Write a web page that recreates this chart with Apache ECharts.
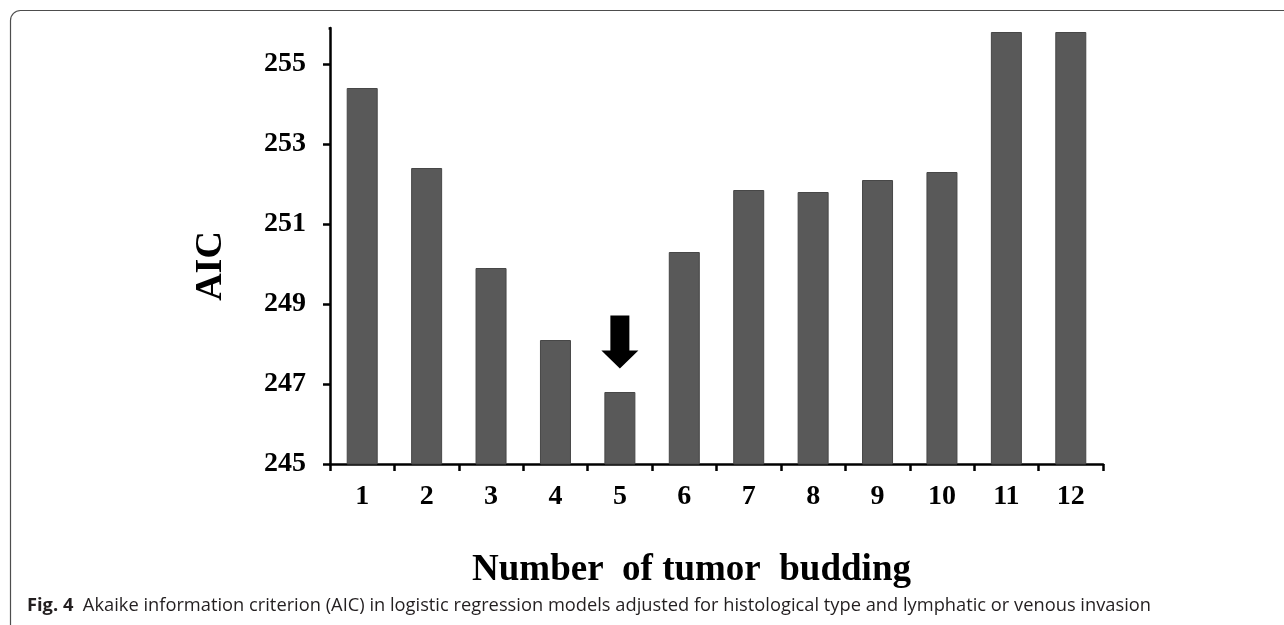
<!DOCTYPE html>
<html>
<head>
<meta charset="utf-8">
<title>AIC by number of tumor budding</title>
<script src="https://cdn.jsdelivr.net/npm/echarts@6/dist/echarts.min.js"></script>
<style>
    html, body { margin: 0; padding: 0; background: #fff; overflow: hidden; }
    #main { width: 1284px; height: 625px; }
</style>
</head>
<body>
<div id="main"></div>
<script>
    // values
    var categories = ['1', '2', '3', '4', '5', '6', '7', '8', '9', '10', '11', '12'];
    var aic = [254.4, 252.4, 249.9, 248.1, 246.8, 250.3, 251.85, 251.8, 252.1, 252.3, 255.8, 255.8];
    var yTicks = [245, 247, 249, 251, 253, 255];
    // arrow pointing at the minimum (category 5)
    var arrowCategory = '5';
    var arrowValue = 248.05;

    var serif = '"Liberation Serif", "Times New Roman", serif';
    var gridLeft = 330, gridTop = 28;
    var myChart = echarts.init(document.getElementById('main'));

    myChart.setOption({
        animation: false,
        title: {
            left: 22,
            top: 592,
            text: '{b|Fig. 4}  Akaike information criterion (AIC) in logistic regression models adjusted for histological type and lymphatic or venous invasion',
            textStyle: {
                fontFamily: '"Open Sans", sans-serif',
                fontSize: 18.3,
                fontWeight: 'normal',
                color: '#231f20',
                rich: {
                    b: { fontFamily: '"Open Sans", sans-serif', fontSize: 18.3, fontWeight: 'bold', color: '#231f20' }
                }
            }
        },
        graphic: [{
            type: 'rect',
            silent: true,
            shape: { x: 10.5, y: 10.5, width: 1400, height: 626, r: 10 },
            style: { fill: 'none', stroke: '#4d4d4d', lineWidth: 1.2 }
        }, {
            // the figure has no tick at the very top of the y axis line
            type: 'rect',
            silent: true,
            z: 100,
            shape: { x: gridLeft - 12, y: gridTop - 4, width: 10.6, height: 8 },
            style: { fill: '#fff' }
        }],
        grid: { left: gridLeft, right: 181, top: gridTop, bottom: 161 },
        xAxis: {
            type: 'category',
            data: categories,
            name: 'Number  of tumor  budding',
            nameLocation: 'middle',
            nameGap: 88,
            nameTextStyle: {
                fontFamily: serif, fontSize: 37, fontWeight: 'bold', color: '#000',
                padding: [0, 50, 0, 0]
            },
            axisLine: { show: true, lineStyle: { color: '#000', width: 2.5 } },
            axisTick: { show: true, inside: false, length: 7, lineStyle: { color: '#000', width: 2.5 } },
            axisLabel: { margin: 19, fontFamily: serif, fontSize: 28, fontWeight: 'bold', color: '#000' },
            splitLine: { show: false }
        },
        yAxis: {
            type: 'value',
            min: 245,
            max: 255.9,
            interval: 2,
            name: 'AIC',
            nameLocation: 'middle',
            nameGap: 100,
            nameTextStyle: {
                fontFamily: serif, fontSize: 38, fontWeight: 'bold', color: '#000',
                padding: [0, 40, 0, 0]
            },
            axisLine: { show: true, lineStyle: { color: '#000', width: 2.5 } },
            axisTick: { show: true, inside: false, length: 7, lineStyle: { color: '#000', width: 2.5 } },
            axisLabel: {
                margin: 24, customValues: yTicks,
                fontFamily: serif, fontSize: 28, fontWeight: 'bold', color: '#000'
            },
            splitLine: { show: false }
        },
        series: [{
            type: 'bar',
            data: aic,
            barWidth: 31,
            itemStyle: { color: '#595959', borderColor: '#474747', borderWidth: 1 },
            markPoint: {
                silent: true,
                symbol: 'path://M9,0 L28,0 L28,35 L37,35 L18.5,53 L0,35 L9,35 Z',
                symbolSize: [37, 53],
                itemStyle: { color: '#000' },
                label: { show: false },
                data: [{ coord: [arrowCategory, arrowValue] }]
            }
        }]
    });
</script>
</body>
</html>
